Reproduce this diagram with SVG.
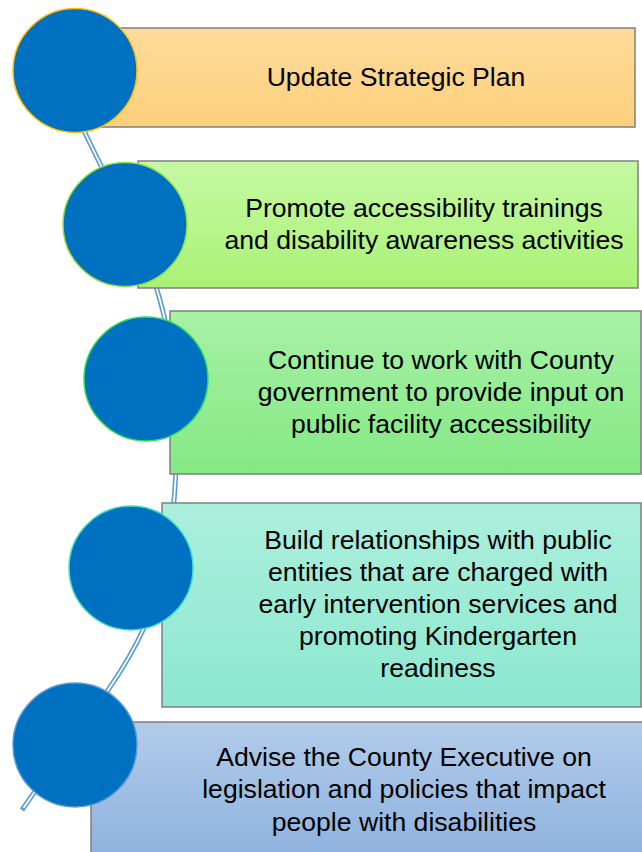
<svg xmlns="http://www.w3.org/2000/svg" width="642" height="852" viewBox="0 0 642 852">
<style>
.box{stroke:#7f7f7f;stroke-width:1.5}
.dot{fill:#0070c0;stroke-width:1.5}
.lbl{font-family:"Liberation Sans",Arial,sans-serif;font-size:26.6px;fill:#000;text-anchor:middle}
.rail{fill:none;stroke:#5b9bd5;stroke-width:5}
.rail-in{fill:none;stroke:#fff;stroke-width:1.8}
</style>
<defs>
<linearGradient id="g1" x1="0" y1="0" x2="0" y2="1"><stop offset="0" stop-color="#fedb9c"/><stop offset="1" stop-color="#fdd07a"/></linearGradient>
<linearGradient id="g2" x1="0" y1="0" x2="0" y2="1"><stop offset="0" stop-color="#c6f9a2"/><stop offset="1" stop-color="#a9f276"/></linearGradient>
<linearGradient id="g3" x1="0" y1="0" x2="0" y2="1"><stop offset="0" stop-color="#a8f1a6"/><stop offset="1" stop-color="#84e984"/></linearGradient>
<linearGradient id="g4" x1="0" y1="0" x2="0" y2="1"><stop offset="0" stop-color="#acefdc"/><stop offset="1" stop-color="#8ce8d0"/></linearGradient>
<linearGradient id="g5" x1="0" y1="0" x2="0" y2="1"><stop offset="0" stop-color="#b2cbe9"/><stop offset="1" stop-color="#8db1df"/></linearGradient>
</defs>
<rect width="642" height="852" fill="#fff"/>
<g id="connectors">
<path class="rail" d="M80,122 C106.7,181.3 144,242 160,300 C176,358 178.8,415 176,470 C173.2,525 168.7,573.3 143,630 C117.3,686.7 62.3,750 22,810"/>
<path class="rail-in" d="M80,122 C106.7,181.3 144,242 160,300 C176,358 178.8,415 176,470 C173.2,525 168.7,573.3 143,630 C117.3,686.7 62.3,750 23.5,808"/>
</g>
<g id="node1">
<rect class="box" x="75" y="28" width="560" height="99" fill="url(#g1)"/>
<circle class="dot" cx="75" cy="70.5" r="62" stroke="#ffc000"/>
<text class="lbl" x="396" y="86">Update Strategic Plan</text>
</g>
<g id="node2">
<rect class="box" x="138" y="161" width="500" height="127" fill="url(#g2)"/>
<circle class="dot" cx="125" cy="224.5" r="62" stroke="#92e040"/>
<text class="lbl" x="424" y="217">Promote accessibility trainings</text>
<text class="lbl" x="424" y="249">and disability awareness activities</text>
</g>
<g id="node3">
<rect class="box" x="170" y="311" width="471" height="163" fill="url(#g3)"/>
<circle class="dot" cx="146" cy="379" r="62" stroke="#33dd55"/>
<text class="lbl" x="441" y="369">Continue to work with County</text>
<text class="lbl" x="441" y="401">government to provide input on</text>
<text class="lbl" x="441" y="433">public facility accessibility</text>
</g>
<g id="node4">
<rect class="box" x="162" y="503" width="479" height="204" fill="url(#g4)"/>
<circle class="dot" cx="131" cy="568" r="62" stroke="#40e0c0"/>
<text class="lbl" x="438" y="549">Build relationships with public</text>
<text class="lbl" x="438" y="581">entities that are charged with</text>
<text class="lbl" x="438" y="613">early intervention services and</text>
<text class="lbl" x="438" y="645">promoting Kindergarten</text>
<text class="lbl" x="438" y="677">readiness</text>
</g>
<g id="node5">
<rect class="box" x="91" y="722" width="560" height="140" fill="url(#g5)"/>
<circle class="dot" cx="75" cy="745" r="62" stroke="#5b9bd5"/>
<text class="lbl" x="404" y="766">Advise the County Executive on</text>
<text class="lbl" x="404" y="798">legislation and policies that impact</text>
<text class="lbl" x="404" y="831">people with disabilities</text>
</g>
</svg>
